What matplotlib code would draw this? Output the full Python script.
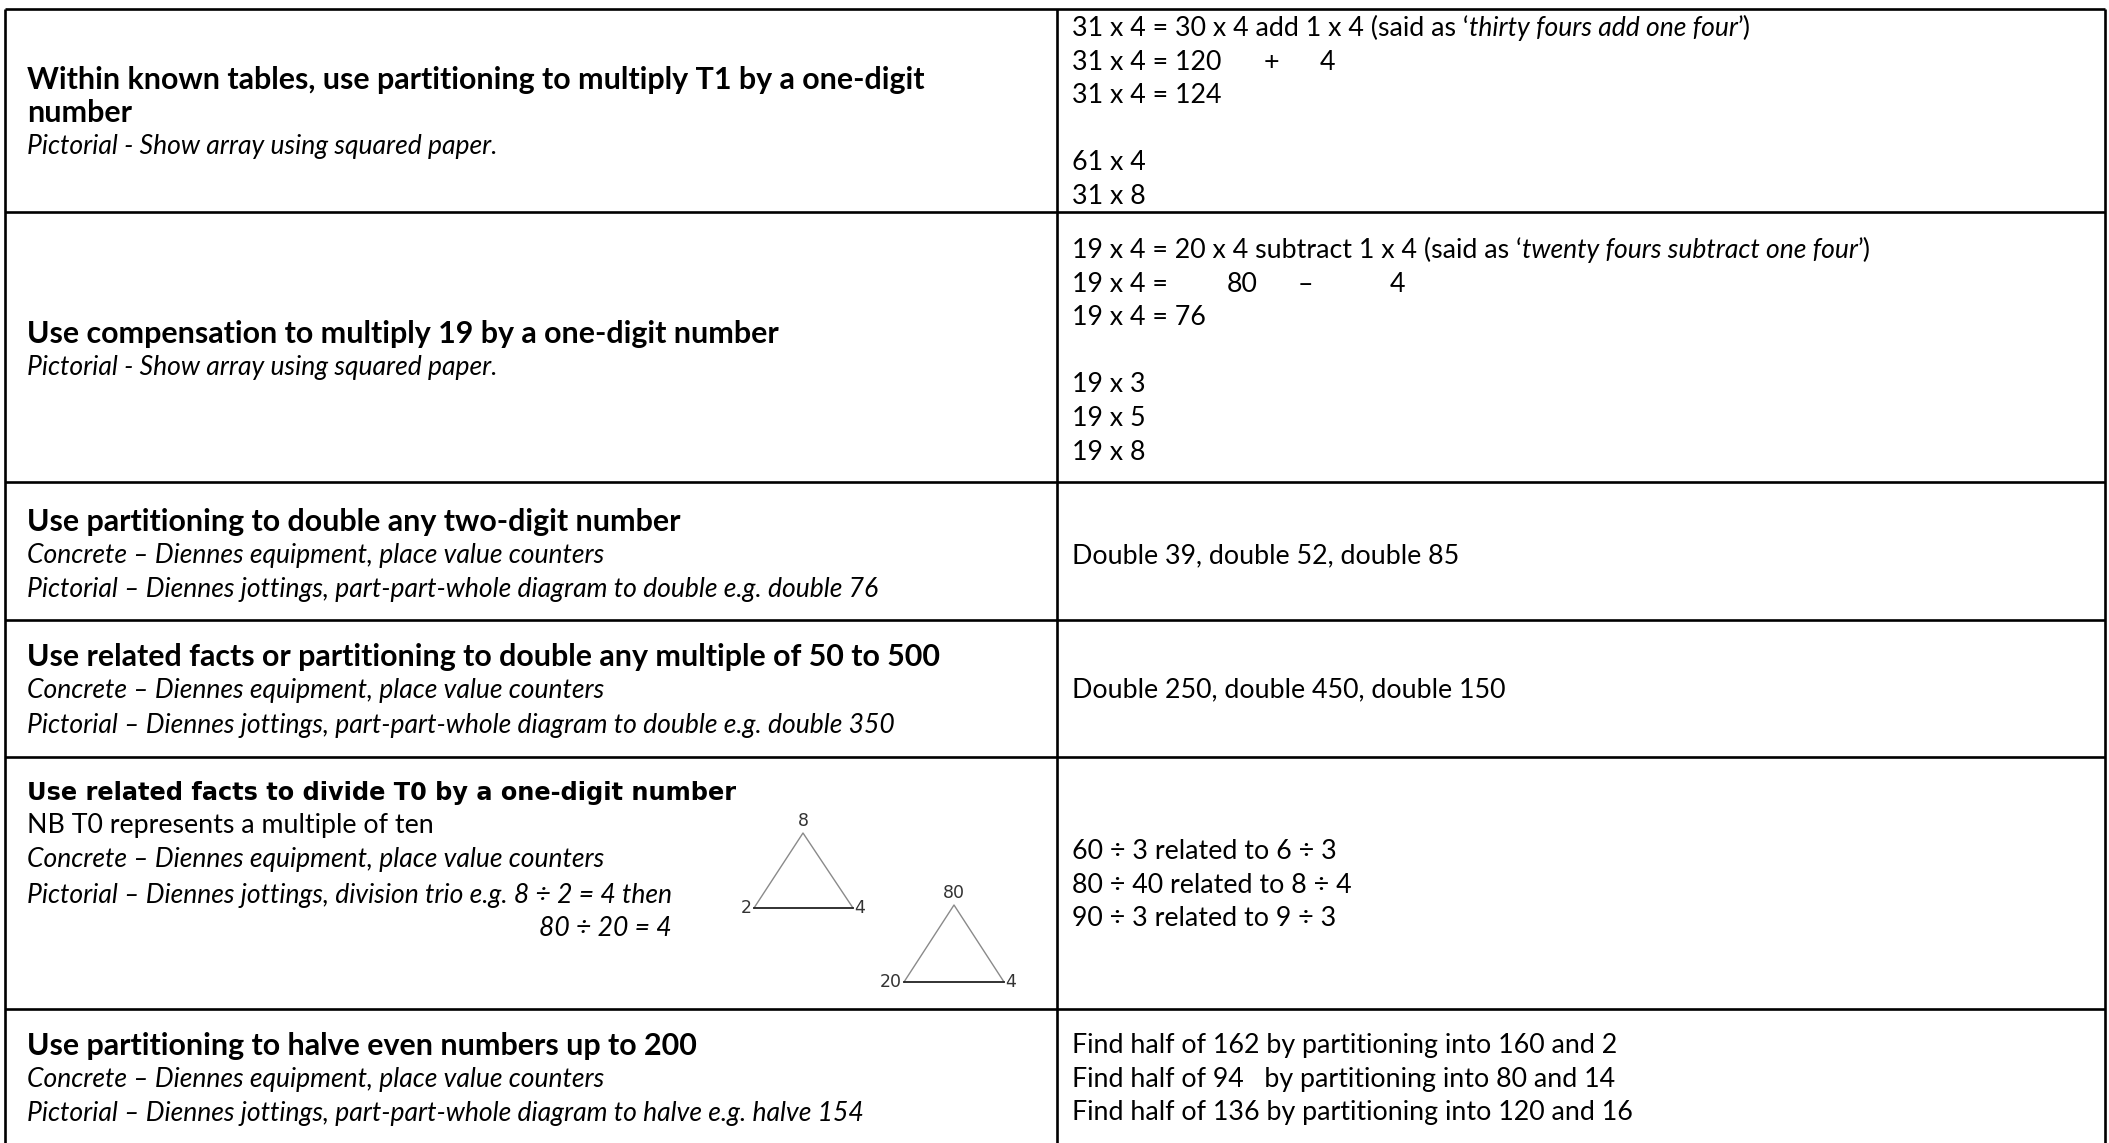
import matplotlib
matplotlib.use("Agg")
import matplotlib.pyplot as plt

# table content
objectives = [
    "Within known tables, use partitioning to multiply T1 by a one-digit\nnumber",
    "Use compensation to multiply 19 by a one-digit number",
    "Use partitioning to double any two-digit number",
    "Use related facts or partitioning to double any multiple of 50 to 500",
    "Use related facts to divide T0 by a one-digit number",
    "Use partitioning to halve even numbers up to 200",
]
notes = [
    ["Pictorial - Show array using squared paper."],
    ["Pictorial - Show array using squared paper."],
    ["Concrete \u2013 Diennes equipment, place value counters",
     "Pictorial \u2013 Diennes jottings, part-part-whole diagram to double e.g. double 76"],
    ["Concrete \u2013 Diennes equipment, place value counters",
     "Pictorial \u2013 Diennes jottings, part-part-whole diagram to double e.g. double 350"],
    ["Concrete \u2013 Diennes equipment, place value counters",
     "Pictorial \u2013 Diennes jottings, division trio e.g. 8 \u00f7 2 = 4 then"],
    ["Concrete \u2013 Diennes equipment, place value counters",
     "Pictorial \u2013 Diennes jottings, part-part-whole diagram to halve e.g. halve 154"],
]
nb_line = "NB T0 represents a multiple of ten"
trio_second = "80 \u00f7 20 = 4"
examples = [
    ["", "", "31 x 4 = 124", "", "61 x 4", "31 x 8"],
    ["", "", "19 x 4 = 76", "", "19 x 3", "19 x 5", "19 x 8"],
    ["Double 39, double 52, double 85"],
    ["Double 250, double 450, double 150"],
    ["60 \u00f7 3 related to 6 \u00f7 3", "80 \u00f7 40 related to 8 \u00f7 4", "90 \u00f7 3 related to 9 \u00f7 3"],
    ["Find half of 162 by partitioning into 160 and 2",
     "Find half of 94   by partitioning into 80 and 14",
     "Find half of 136 by partitioning into 120 and 16"],
]
said_as = [("31 x 4 = 30 x 4 add 1 x 4 (said as \u2018", "thirty fours add one four", "\u2019)"),
           ("19 x 4 = 20 x 4 subtract 1 x 4 (said as \u2018", "twenty fours subtract one four", "\u2019)")]
split_sums = [["31 x 4 = 120", "+", "4"], ["19 x 4 =", "80", "\u2013", "4"]]
trios = [("8", "2", "4"), ("80", "20", "4")]

W, H = 2109, 1143
row_lines = [9, 212, 482, 620, 757, 1009]
x_left, x_mid, x_right = 5, 1057, 2105
LH = 33.6
DY = 3  # small baseline nudge

FONT = "Lato"
REG = dict(family=FONT, fontsize=19.3, color="black")
ITA = dict(family=FONT, fontsize=19.1, style="italic", color="black")
BOLD = dict(family=FONT, fontsize=21.9, weight="bold", color="black")

fig = plt.figure(figsize=(W / 100, H / 100), dpi=100)
ax = fig.add_axes([0, 0, 1, 1])
ax.set_xlim(0, W)
ax.set_ylim(H, 0)
ax.axis("off")

# grid
for y in row_lines:
    ax.plot([x_left, x_right], [y, y], color="black", lw=1.9, solid_capstyle="butt")
for x in (x_left, x_mid, x_right):
    ax.plot([x, x], [row_lines[0], H], color="black", lw=1.9, solid_capstyle="butt")


def runs(x, y, parts):
    t = ax.text(x, y, parts[0][0], va="center", ha="left", **parts[0][1])
    for s, st in parts[1:]:
        t = ax.annotate(s, xy=(1, 0), xycoords=t, va="bottom", ha="left", **st)
    return t


# left column
lx, rx = 27, 1072
left_y = [[76.7, 110.3, 143.9], [331, 364.5], [519, 553, 586.5], [653.7, 687.3, 722],
          [789.6, 857, 892], [1042.5, 1076, 1111]]
for i, (obj, nt) in enumerate(zip(objectives, notes)):
    ys = [y + DY for y in left_y[i]]
    if "\n" in obj:
        a, b = obj.split("\n")
        ax.text(lx, ys[0], a, va="center", **BOLD)
        ax.text(lx, ys[1], b, va="center", **BOLD)
        ys = ys[2:]
    elif i == 4:
        ax.text(lx, ys[0], obj, va="center", family="DejaVu Sans", weight="bold", fontsize=17.3)
        ys = ys[1:]
    else:
        ax.text(lx, ys[0], obj, va="center", **BOLD)
        ys = ys[1:]
    for y, s in zip(ys, nt):
        ax.text(lx, y, s, va="center", **ITA)

ax.text(lx, 823 + DY, nb_line, va="center", **REG)
ax.text(672, 925.4 + DY, trio_second, va="center", ha="right", **ITA)

# right column
right_y0 = [y + DY for y in [25.6, 247.5, 553, 687.3, 848.7, 1042.5]]
for i, lines in enumerate(examples):
    for j, s in enumerate(lines):
        if s:
            ax.text(rx, right_y0[i] + j * LH, s, va="center", **REG)

for k, (a, b, c) in enumerate(said_as):
    runs(rx, right_y0[k], [(a, REG), (b, ITA), (c, REG)])

sum_x = [[1072, 1264, 1320], [1072, 1227, 1298, 1390]]
for k, pieces in enumerate(split_sums):
    for px, s in zip(sum_x[k], pieces):
        ax.text(px, right_y0[k] + LH, s, va="center", **REG)

# division trio triangles
tri_pos = [((803, 833), (754, 908), (853, 908)), ((954, 905), (904, 982), (1004, 982))]
for (top, left, right), (t_lab, l_lab, r_lab) in zip(tri_pos, trios):
    ax.plot([left[0], top[0], right[0]], [left[1], top[1], right[1]], color="#8a8a8a", lw=1.0)
    ax.plot([left[0], right[0]], [left[1], right[1]], color="#222222", lw=1.3)
    lab = dict(family="DejaVu Sans", fontsize=12.5, color="#333333")
    ax.text(top[0], top[1] - 3, t_lab, ha="center", va="bottom", **lab)
    ax.text(left[0] - 2, left[1], l_lab, ha="right", va="center", **lab)
    ax.text(right[0] + 1, right[1], r_lab, ha="left", va="center", **lab)

fig.savefig("out.png", dpi=100, facecolor="white")
